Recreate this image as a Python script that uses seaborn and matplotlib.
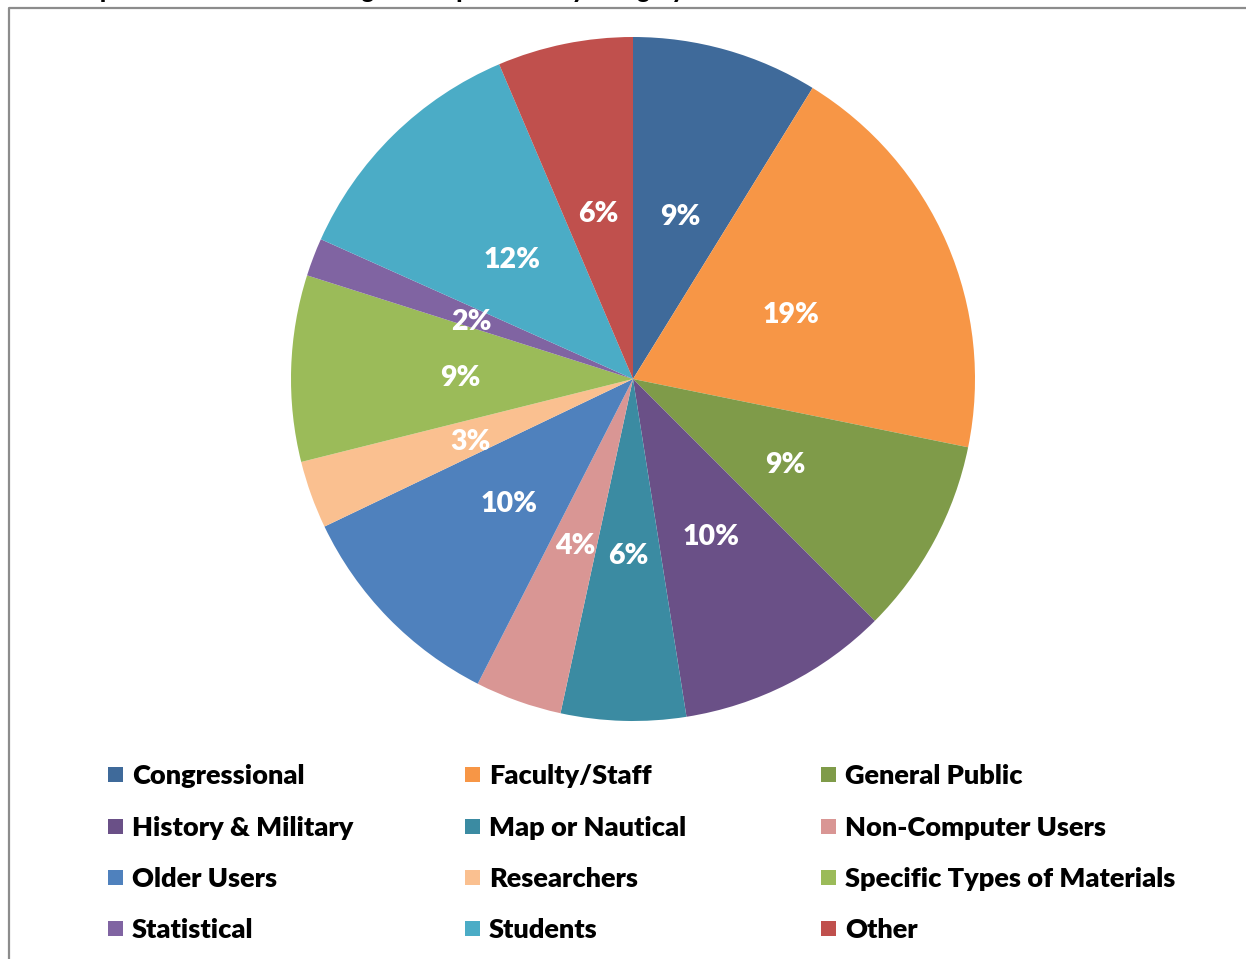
import matplotlib
matplotlib.use("Agg")
import matplotlib.pyplot as plt
import seaborn as sns
from matplotlib.lines import Line2D
from matplotlib.patches import Rectangle

sns.set_theme(style="white")
plt.rcParams['font.family'] = ['Lato', 'DejaVu Sans']

categories = ["Congressional", "Faculty/Staff", "General Public",
              "History & Military", "Map or Nautical", "Non-Computer Users",
              "Older Users", "Researchers", "Specific Types of Materials",
              "Statistical", "Students", "Other"]
shares = [8.8, 19.4, 9.3, 10.0, 5.9, 4.1, 10.4, 3.2, 8.8, 1.8, 11.9, 6.4]
colors = ["#3F6A9A", "#F79646", "#7F9B49", "#6A5087", "#3B8BA2", "#D99694",
          "#4F81BD", "#FAC090", "#9BBB59", "#8064A2", "#4BACC6", "#C0504D"]
title_text = "Chart 4: Special Audiences Including the Respondents by Category"

W, H = 1246, 959
fig = plt.figure(figsize=(W / 100, H / 100), dpi=100)

# frame of chart area
fig.add_artist(Line2D([9 / W, 9 / W, 1.0], [0, 1 - 8 / H, 1 - 8 / H],
                      transform=fig.transFigure, color="#8C8C8C", lw=1.6))
# title clipped by the top edge (only descenders visible)
fig.text(0.0, 1 + 2 / H, title_text, ha="left", va="baseline",
         fontsize=16.5, fontweight="heavy", color="black")

cx, cy, r = 633, 379, 342
ax = fig.add_axes([(cx - r) / W, (H - cy - r) / H, 2 * r / W, 2 * r / H])
wedges, texts, autotexts = ax.pie(
    shares, colors=colors, startangle=90, counterclock=False, radius=1,
    autopct="%.0f%%", pctdistance=0.505,
    wedgeprops=dict(linewidth=0),
    textprops=dict(color="white", fontsize=20.5, fontweight="heavy"))
for t in autotexts:
    x, y = t.get_position()
    t.set_position((x, y - 0.012))
ax.set_xlim(-1, 1)
ax.set_ylim(-1, 1)
ax.set_aspect("equal")
ax.axis("off")

# legend (3 columns x 4 rows, row-major)
col_x = [108, 465, 821]
row_y = [774, 826, 877, 928]
box = 15
for i, (cat, col) in enumerate(zip(categories, colors)):
    x = col_x[i % 3]
    y = row_y[i // 3]
    fig.add_artist(Rectangle((x / W, (H - y - box / 2) / H), box / W, box / H,
                             transform=fig.transFigure, facecolor=col,
                             edgecolor="none"))
    fig.text((x + box + 9) / W, (H - y) / H, cat, ha="left", va="center_baseline",
             fontsize=19.5, fontweight="heavy", color="black")

fig.savefig("out.png", dpi=100)
